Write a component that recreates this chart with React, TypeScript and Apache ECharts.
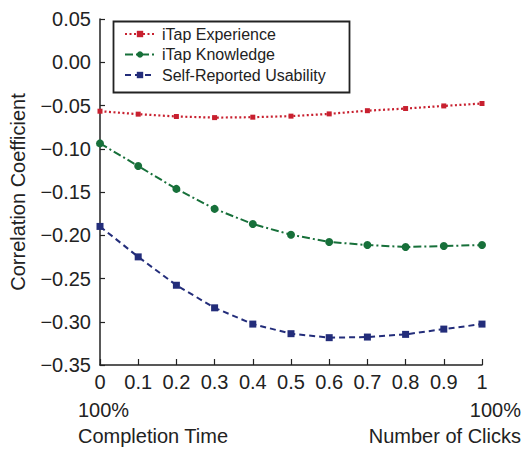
import React, { useEffect, useRef } from "react";
import * as echarts from "echarts";

const xValues = [0, 0.1, 0.2, 0.3, 0.4, 0.5, 0.6, 0.7, 0.8, 0.9, 1];
const experience = [-0.0566, -0.060, -0.0627, -0.064, -0.0635, -0.0623, -0.0597, -0.056, -0.0535, -0.0505, -0.0477];
const knowledge = [-0.0938, -0.120, -0.1464, -0.1695, -0.187, -0.1994, -0.2078, -0.2113, -0.2136, -0.2125, -0.2113];
const usability = [-0.1898, -0.225, -0.2578, -0.2839, -0.3027, -0.3138, -0.3184, -0.3177, -0.3146, -0.3085, -0.3027];
const seriesNames = ["iTap Experience", "iTap Knowledge", "Self-Reported Usability"];
const yTicks = { min: -0.35, max: 0.05, interval: 0.05 };

const FONT = "Liberation Sans, Arial, Helvetica, sans-serif";

export default function App() {
  const ref = useRef<HTMLDivElement>(null);
  useEffect(() => {
    if (!ref.current) return;
    const chart = echarts.init(ref.current, undefined, { renderer: "svg" });
    const pair = (arr: number[]) => xValues.map((x, i) => [x, arr[i]]);
    const red = "#c8202f";
    const green = "#17703a";
    const navy = "#232d7a";
    chart.setOption({
      animation: false,
      textStyle: { fontFamily: FONT },
      grid: { left: 99, right: 39, top: 19, bottom: 88, containLabel: false },
      legend: {
        orient: "vertical",
        left: 112,
        top: 26,
        padding: [0, 0, 0, 12],
        itemGap: 4.5,
        itemWidth: 30,
        itemHeight: 8,
        textStyle: { fontSize: 16, color: "#222", fontFamily: FONT, padding: [0, 0, 0, 2] },
        data: seriesNames,
      },
      xAxis: {
        type: "value",
        min: 0,
        max: 1,
        interval: 0.1,
        splitLine: { show: false },
        axisLine: { onZero: false, lineStyle: { color: "#222", width: 1.5 } },
        axisTick: { inside: true, length: 6, lineStyle: { color: "#222", width: 1.2 } },
        axisLabel: {
          fontSize: 20,
          color: "#222",
          margin: 7,
          fontFamily: FONT,
          formatter: (v: number) => String(+v.toFixed(1)),
        },
      },
      yAxis: {
        type: "value",
        min: yTicks.min,
        max: yTicks.max,
        interval: yTicks.interval,
        splitLine: { show: false },
        name: "Correlation Coefficient",
        nameLocation: "middle",
        nameGap: 72,
        nameTextStyle: { fontSize: 20, color: "#222", fontFamily: FONT },
        axisLine: { show: true, onZero: false, lineStyle: { color: "#222", width: 1.5 } },
        axisTick: { show: true, inside: true, length: 5, lineStyle: { color: "#222", width: 1.2 } },
        axisLabel: {
          fontSize: 20,
          color: "#222",
          margin: 9,
          fontFamily: FONT,
          formatter: (v: number) => {
            const r = Math.round(v * 100) / 100;
            return (r < 0 ? "\u2212" : "") + Math.abs(r).toFixed(2);
          },
        },
      },
      series: [
        {
          name: seriesNames[0],
          type: "line",
          data: pair(experience),
          symbol: "rect",
          symbolSize: 5,
          itemStyle: { color: red },
          lineStyle: { color: red, width: 2.2, type: [2, 2.5] },
        },
        {
          name: seriesNames[1],
          type: "line",
          data: pair(knowledge),
          symbol: "circle",
          symbolSize: 8,
          itemStyle: { color: green },
          lineStyle: { color: green, width: 2, type: [8, 3, 2, 3] },
        },
        {
          name: seriesNames[2],
          type: "line",
          data: pair(usability),
          symbol: "rect",
          symbolSize: 7,
          itemStyle: { color: navy },
          lineStyle: { color: navy, width: 2, type: [6, 4] },
        },
      ],
      graphic: [
        {
          type: "rect",
          left: 111,
          top: 19,
          shape: { width: 236, height: 71 },
          style: { fill: "none", stroke: "#222", lineWidth: 1.8 },
          z: 100,
        },
        { type: "text", left: 78, top: 400, style: { text: "100%", fontSize: 20, fill: "#222", fontFamily: FONT } },
        { type: "text", left: 78, top: 426, style: { text: "Completion Time", fontSize: 20, fill: "#222", fontFamily: FONT } },
        { type: "text", right: 0, top: 400, style: { text: "100%", fontSize: 20, fill: "#222", fontFamily: FONT } },
        { type: "text", right: 0, top: 426, style: { text: "Number of Clicks", fontSize: 20, fill: "#222", fontFamily: FONT } },
      ],
    });
    return () => chart.dispose();
  }, []);
  return <div ref={ref} style={{ width: 521, height: 453, position: "absolute", left: 0, top: 0 }} />;
}
